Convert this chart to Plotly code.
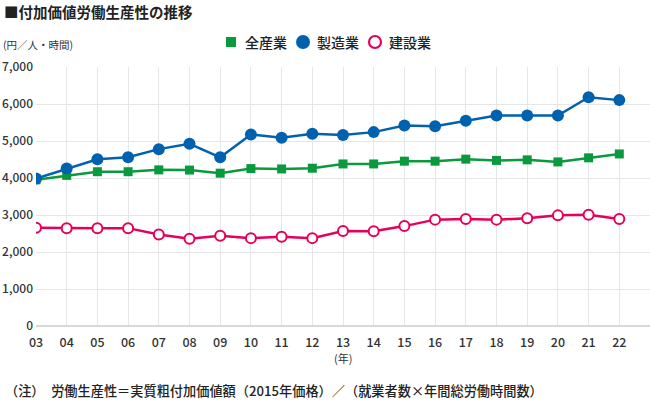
import plotly.graph_objects as go

years = list(range(3, 23))
year_labels = [f"{y:02d}" for y in years]
all_industries = [3950, 4070, 4170, 4170, 4220, 4215, 4130, 4255, 4245, 4265, 4380, 4380, 4455, 4455, 4510, 4475, 4490, 4435, 4545, 4650]
manufacturing = [3985, 4255, 4505, 4560, 4780, 4925, 4560, 5175, 5085, 5195, 5165, 5240, 5420, 5400, 5550, 5690, 5690, 5690, 6185, 6105]
construction = [2655, 2645, 2640, 2645, 2475, 2360, 2440, 2375, 2410, 2375, 2565, 2560, 2700, 2875, 2890, 2875, 2910, 2990, 3005, 2890]
y_ticks = [0, 1000, 2000, 3000, 4000, 5000, 6000, 7000]
series_names = ["全産業", "製造業", "建設業"]

GREEN = "#0a9a3e"
BLUE = "#0062ae"
PINK = "#e6005c"
FONT = "Noto Sans CJK JP"

L, R, T, B = 36, 0, 67, 75
W, H = 650, 401
PW, PH = W - L - R, H - T - B


def px(x):
    return (x - L) / PW


def py(y):
    return (H - B - y) / PH


fig = go.Figure()
fig.add_trace(go.Scatter(x=years, y=all_industries, mode="lines+markers", name=series_names[0],
                         line=dict(color=GREEN, width=2.5),
                         marker=dict(symbol="square", size=9, color=GREEN)))
fig.add_trace(go.Scatter(x=years, y=manufacturing, mode="lines+markers", name=series_names[1],
                         line=dict(color=BLUE, width=2.5),
                         marker=dict(symbol="circle", size=12, color=BLUE)))
fig.add_trace(go.Scatter(x=years, y=construction, mode="lines+markers", name=series_names[2],
                         line=dict(color=PINK, width=2.5),
                         marker=dict(symbol="circle", size=10, color="white",
                                     line=dict(color=PINK, width=2))))

# manual legend (symbols as shapes, names as text)
leg_y = py(42)
shapes = [
    dict(type="rect", xref="paper", yref="paper", xsizemode="pixel", ysizemode="pixel",
         xanchor=px(231), yanchor=leg_y, x0=-5, x1=5, y0=-5, y1=5,
         fillcolor=GREEN, line=dict(width=0)),
    dict(type="circle", xref="paper", yref="paper", xsizemode="pixel", ysizemode="pixel",
         xanchor=px(303), yanchor=leg_y, x0=-7, x1=7, y0=-7, y1=7,
         fillcolor=BLUE, line=dict(width=0)),
    dict(type="circle", xref="paper", yref="paper", xsizemode="pixel", ysizemode="pixel",
         xanchor=px(375), yanchor=leg_y, x0=-6, x1=6, y0=-6, y1=6,
         fillcolor="white", line=dict(color=PINK, width=2.2)),
]
legend_text_x = [243, 315, 387]

annotations = [
    dict(text="<b>■付加価値労働生産性の推移</b>", xref="paper", yref="paper", x=px(2), y=py(12),
         xanchor="left", yanchor="middle", showarrow=False, font=dict(size=14.5, color="#222222")),
    dict(text="(円／人・時間)", xref="paper", yref="paper", x=px(1), y=py(45),
         xanchor="left", yanchor="middle", showarrow=False, font=dict(size=10.5, color="#333333")),
    dict(text="(年)", xref="x", yref="paper", x=13, y=py(358),
         xanchor="center", yanchor="middle", showarrow=False, font=dict(size=11, color="#333333")),
    dict(text="（注）　労働生産性＝実質粗付加価値額（2015年価格）／（就業者数×年間総労働時間数）",
         xref="paper", yref="paper", x=px(3), y=py(390), xanchor="left", yanchor="middle",
         showarrow=False, font=dict(size=13.2, color="#222222", weight=500)),
]
for name, tx in zip(series_names, legend_text_x):
    annotations.append(dict(text=name, xref="paper", yref="paper", x=px(tx), y=leg_y,
                            xanchor="left", yanchor="middle", showarrow=False,
                            font=dict(size=14, color="#222222", weight=500)))

fig.update_layout(
    width=W, height=H,
    margin=dict(l=L, r=R, t=T, b=B),
    paper_bgcolor="white", plot_bgcolor="white",
    font=dict(family=FONT, color="#333333", size=12),
    showlegend=False,
    xaxis=dict(range=[3, 23], tickvals=years, ticktext=year_labels, showgrid=True,
               gridcolor="#e6e6e6", gridwidth=1, zeroline=False, showline=False,
               tickfont=dict(size=12.5, color="#333333", weight=500), ticks="",
               ticklabelstandoff=7, automargin=False),
    yaxis=dict(range=[0, 7000], tickvals=y_ticks, tickformat=",d", showgrid=True,
               gridcolor="#e6e6e6", gridwidth=1, zeroline=True, zerolinecolor="#d8d8d8",
               zerolinewidth=2, showline=False, tickfont=dict(size=12, color="#333333", weight=500),
               ticks="", ticklabelstandoff=2, automargin=False),
    shapes=shapes,
    annotations=annotations,
)

fig.write_html("out.html", config={"displayModeBar": False},
               post_script="document.body.style.margin='0';")
